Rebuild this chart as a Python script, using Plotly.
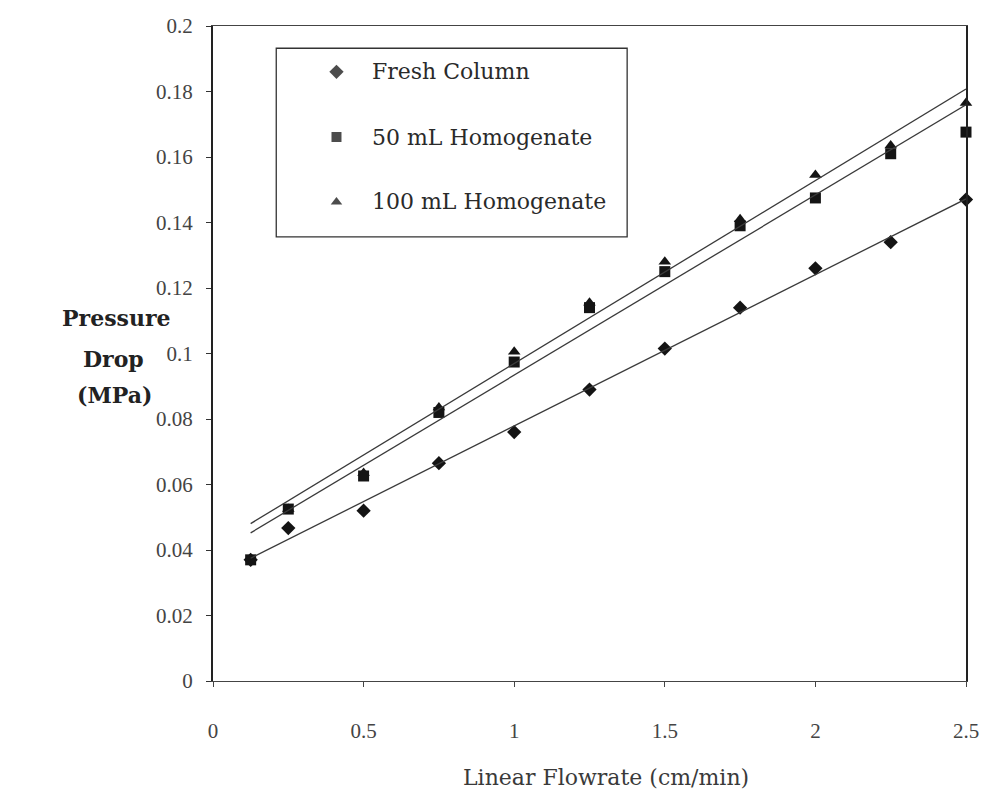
import numpy as np
import plotly.graph_objects as go

flowrate = [0.125, 0.25, 0.5, 0.75, 1.0, 1.25, 1.5, 1.75, 2.0, 2.25, 2.5]
fresh = [0.037, 0.0467, 0.052, 0.0665, 0.076, 0.089, 0.1015, 0.114, 0.126, 0.134, 0.147]
homog50 = [0.037, 0.0525, 0.0626, 0.082, 0.0974, 0.114, 0.125, 0.139, 0.1475, 0.161, 0.1676]
flow100 = [0.25, 0.5, 0.75, 1.0, 1.25, 1.5, 1.75, 2.0, 2.25, 2.5]
homog100 = [0.0525, 0.0635, 0.0835, 0.1005, 0.1155, 0.128, 0.141, 0.1545, 0.1635, 0.1765]

series_names = ["Fresh Column", "50 mL Homogenate", "100 mL Homogenate"]
series_x = [flowrate, flowrate, flow100]
series_y = [fresh, homog50, homog100]
symbols = ["diamond", "square", "triangle-up"]

INK = "#141414"
SERIF = "Liberation Serif"
WIDE = "DejaVu Serif"

fig = go.Figure()
for name, xs, ys, sym in zip(series_names, series_x, series_y, symbols):
    fig.add_trace(go.Scatter(
        x=xs, y=ys, mode="markers", name=name, showlegend=False,
        marker=dict(symbol=sym, size=11, color=INK, line=dict(width=0)),
        cliponaxis=False,
    ))
# linear trend lines fitted from the data
for xs, ys in zip(series_x, series_y):
    m, b = np.polyfit(xs, ys, 1)
    xl = np.array([flowrate[0], flowrate[-1]])
    fig.add_trace(go.Scatter(
        x=xl, y=m * xl + b, mode="lines", showlegend=False,
        line=dict(color="#3a3a3a", width=1.3), hoverinfo="skip",
    ))

# boxed legend (paper coordinates via an overlay axis)
leg_x0, leg_x1, leg_y0, leg_y1 = 0.084, 0.550, 0.678, 0.966
leg_rows = [0.930, 0.8305, 0.7313]
leg_mark_x, leg_text_x = 0.164, 0.208
fig.add_trace(go.Scatter(
    x=[leg_mark_x] * 3, y=leg_rows, mode="markers", xaxis="x2", yaxis="y2",
    showlegend=False, hoverinfo="skip", cliponaxis=False,
    marker=dict(symbol=symbols, size=[11, 10, 10], color="#000", line=dict(width=0)),
))

annotations = [
    dict(text=n, xref="paper", yref="paper", x=leg_text_x, y=yy,
         xanchor="left", yanchor="middle", showarrow=False,
         font=dict(family=WIDE, size=22, color="#2a2a2a"))
    for n, yy in zip(series_names, leg_rows)
]
annotations += [
    dict(text="Linear Flowrate (cm/min)", xref="paper", yref="paper",
         x=0.522, y=-0.147, xanchor="center", yanchor="middle", showarrow=False,
         font=dict(family=WIDE, size=22, color="#3a3a3a")),
    dict(text="<b>Pressure</b>", xref="paper", yref="paper",
         x=-0.1286, y=0.554, xanchor="center", yanchor="middle", showarrow=False,
         font=dict(family=WIDE, size=22, color="#222")),
    dict(text="<b>Drop</b>", xref="paper", yref="paper",
         x=-0.1325, y=0.4916, xanchor="center", yanchor="middle", showarrow=False,
         font=dict(family=WIDE, size=22, color="#222")),
    dict(text="<b>(MPa)</b>", xref="paper", yref="paper",
         x=-0.1312, y=0.4366, xanchor="center", yanchor="middle", showarrow=False,
         font=dict(family=WIDE, size=22, color="#222")),
]

fig.update_layout(
    width=991, height=795,
    margin=dict(l=213, r=16, t=26, b=114),
    paper_bgcolor="white", plot_bgcolor="white",
    font=dict(family=SERIF, size=21, color="#444"),
    showlegend=False,
    xaxis=dict(
        range=[0, 2.5], dtick=0.5, tick0=0,
        showgrid=False, zeroline=False,
        showline=True, linecolor="#444", linewidth=1.3, mirror=True,
        ticks="outside", ticklen=5, tickcolor="#444",
        ticklabelstandoff=26,
        tickfont=dict(family=SERIF, size=21, color="#444"),
    ),
    yaxis=dict(
        range=[0, 0.2], dtick=0.02, tick0=0,
        showgrid=False, zeroline=False,
        showline=True, linecolor="#222", linewidth=2, mirror=True,
        ticks="outside", ticklen=5, tickcolor="#333",
        ticklabelstandoff=9,
        tickfont=dict(family=SERIF, size=21, color="#444"),
    ),
    xaxis2=dict(overlaying="x", range=[0, 1], visible=False, fixedrange=True),
    yaxis2=dict(overlaying="y", range=[0, 1], visible=False, fixedrange=True),
    shapes=[dict(type="rect", xref="paper", yref="paper",
                 x0=leg_x0, x1=leg_x1, y0=leg_y0, y1=leg_y1,
                 line=dict(color="#333", width=1.3), fillcolor="white", layer="below")],
    annotations=annotations,
)

fig.write_html("out.html")
